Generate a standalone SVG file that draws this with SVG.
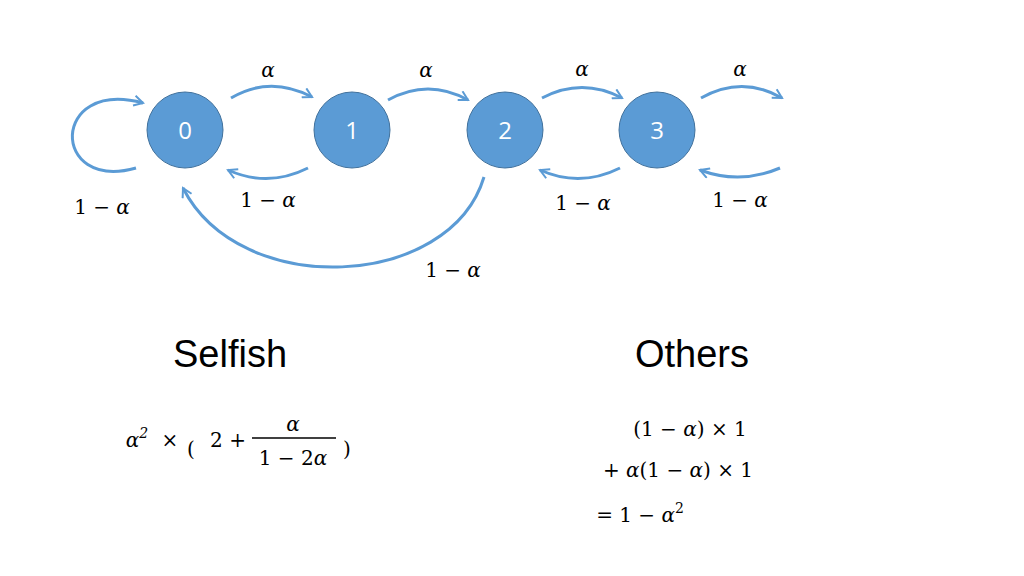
<svg xmlns="http://www.w3.org/2000/svg" width="1024" height="576" viewBox="0 0 1024 576">
<style>
.n{fill:#5B9BD5;stroke:#41719C;stroke-width:1}
.nl{font-family:"Open Sans","Liberation Sans",sans-serif;font-size:24px;fill:#fff;text-anchor:middle}
.c{fill:none;stroke:#5B9BD5;stroke-width:3}
.m{font-family:"DejaVu Serif","Liberation Serif",serif;font-size:20px;fill:#000;text-anchor:middle}
.h{font-family:"Liberation Sans",sans-serif;font-size:38px;fill:#000;text-anchor:middle}
</style>
<defs>
<marker id="a" viewBox="0 0 12 12" refX="10" refY="6" markerWidth="4" markerHeight="4" orient="auto" markerUnits="strokeWidth">
<path d="M1,1 L10,6 L1,11" fill="none" stroke="#5B9BD5" stroke-width="2"/>
</marker>
</defs>
<rect width="1024" height="576" fill="#fff"/>
<g id="connectors">
<path class="c" marker-end="url(#a)" d="M136,168 C50,192 50,78 143,103"/>
<path class="c" marker-end="url(#a)" d="M231,98 Q270,75 312,97"/>
<path class="c" marker-end="url(#a)" d="M388,100 Q428,78 468,100"/>
<path class="c" marker-end="url(#a)" d="M542,98 Q582,77 622,98"/>
<path class="c" marker-end="url(#a)" d="M701,98 Q742,75 782,98"/>
<path class="c" marker-end="url(#a)" d="M308,168 Q268,188 228,170"/>
<path class="c" marker-end="url(#a)" d="M620,168 Q580,188 540,170"/>
<path class="c" marker-end="url(#a)" d="M780,168 Q740,185 700,170"/>
<path class="c" marker-end="url(#a)" d="M484,177 C450,290 240,300 183,188"/>
</g>
<g id="n0"><circle class="n" cx="185" cy="130" r="38"/><text class="nl" x="185" y="139">0</text></g>
<g id="n1"><circle class="n" cx="352" cy="130" r="38"/><text class="nl" x="352" y="139">1</text></g>
<g id="n2"><circle class="n" cx="505" cy="130" r="38"/><text class="nl" x="505" y="139">2</text></g>
<g id="n3"><circle class="n" cx="657" cy="130" r="38"/><text class="nl" x="657" y="139">3</text></g>
<g id="labels">
<text class="m" x="268" y="77" font-style="italic">α</text>
<text class="m" x="426" y="77" font-style="italic">α</text>
<text class="m" x="582" y="76" font-style="italic">α</text>
<text class="m" x="740" y="76" font-style="italic">α</text>
<text class="m" x="102" y="214">1 − <tspan font-style="italic">α</tspan></text>
<text class="m" x="268" y="207">1 − <tspan font-style="italic">α</tspan></text>
<text class="m" x="583" y="210">1 − <tspan font-style="italic">α</tspan></text>
<text class="m" x="740" y="207">1 − <tspan font-style="italic">α</tspan></text>
<text class="m" x="453" y="277">1 − <tspan font-style="italic">α</tspan></text>
<text class="h" x="230" y="367">Selfish</text>
<text class="h" x="692" y="367">Others</text>
<text class="m" x="137" y="447" font-size="22" font-style="italic">α<tspan font-size="14" dy="-9">2</tspan></text>
<text class="m" x="170" y="447" font-size="22">×</text>
<text class="m" x="191" y="456" font-size="40" font-weight="100">(</text>
<text class="m" x="228" y="447" font-size="22">2 +</text>
<text class="m" x="293" y="431" font-size="22" font-style="italic">α</text>
<line x1="252" y1="438" x2="336" y2="438" stroke="#000" stroke-width="1.5"/>
<text class="m" x="293" y="465" font-size="22">1 − 2<tspan font-style="italic">α</tspan></text>
<text class="m" x="347" y="456" font-size="40" font-weight="100">)</text>
<text class="m" x="690" y="436" font-size="22">(1 − <tspan font-style="italic">α</tspan>) × 1</text>
<text class="m" x="678" y="477" font-size="22">+ <tspan font-style="italic">α</tspan>(1 − <tspan font-style="italic">α</tspan>) × 1</text>
<text class="m" x="640" y="522" font-size="22">= 1 − <tspan font-style="italic">α</tspan><tspan font-size="14" dy="-9">2</tspan></text>
</g>
</svg>
